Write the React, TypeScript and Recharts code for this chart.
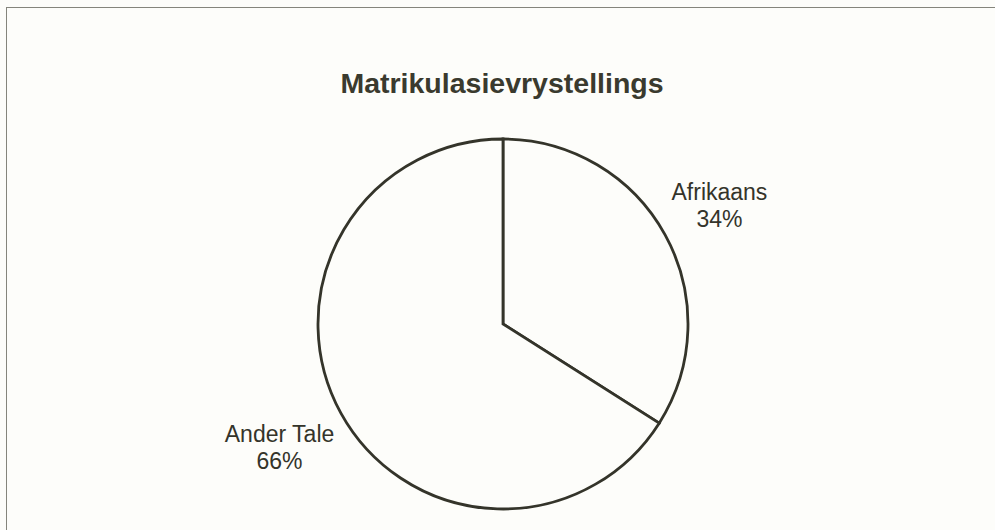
import React from "react";
import { PieChart, Pie, Cell } from "recharts";

const categories = ["Afrikaans", "Ander Tale"];
const shares = [34, 66];
const labelGaps = [62, 70];
const title = "Matrikulasievrystellings";

const data = categories.map((name, i) => ({ name, value: shares[i], gap: labelGaps[i] }));

const INK = "#34342a";
const RAD = Math.PI / 180;

function renderLabel(props: any) {
  const { cx, cy, midAngle, outerRadius, name, value, payload } = props;
  const r = outerRadius + (payload?.gap ?? 62);
  const x = cx + r * Math.cos(-midAngle * RAD);
  const y = cy + r * Math.sin(-midAngle * RAD);
  return (
    <text
      x={x}
      y={y - 5}
      textAnchor="middle"
      fill={INK}
      fontSize={23}
      fontFamily="'Liberation Sans', Arial, sans-serif"
    >
      <tspan x={x} dy="0">{name}</tspan>
      <tspan x={x} dy="27">{`${value}%`}</tspan>
    </text>
  );
}

export default function App() {
  return (
    <div
      style={{
        position: "absolute",
        left: 0,
        top: 0,
        width: 995,
        height: 530,
        background: "#fdfdfa",
        overflow: "hidden",
      }}
    >
      <div
        style={{
          position: "absolute",
          left: 6,
          top: 7,
          width: 1020,
          height: 560,
          border: "1.5px solid #85857c",
        }}
      />
      <div
        style={{
          position: "absolute",
          left: 0,
          top: 67,
          width: 1004,
          textAlign: "center",
          fontFamily: "'Liberation Sans', Arial, sans-serif",
          fontWeight: "bold",
          fontSize: 28.5,
          color: "#3a3a2e",
        }}
      >
        {title}
      </div>
      <PieChart
        width={995}
        height={530}
        margin={{ top: 0, right: 0, bottom: 0, left: 0 }}
        style={{ position: "absolute", left: 0, top: 0 }}
      >
        <Pie
          data={data}
          dataKey="value"
          nameKey="name"
          cx={503}
          cy={324}
          outerRadius={185}
          startAngle={90}
          endAngle={-270}
          stroke={INK}
          strokeWidth={2.8}
          label={renderLabel}
          labelLine={false}
          isAnimationActive={false}
        >
          {data.map((d) => (
            <Cell key={d.name} fill="#fdfdfa" />
          ))}
        </Pie>
      </PieChart>
    </div>
  );
}
